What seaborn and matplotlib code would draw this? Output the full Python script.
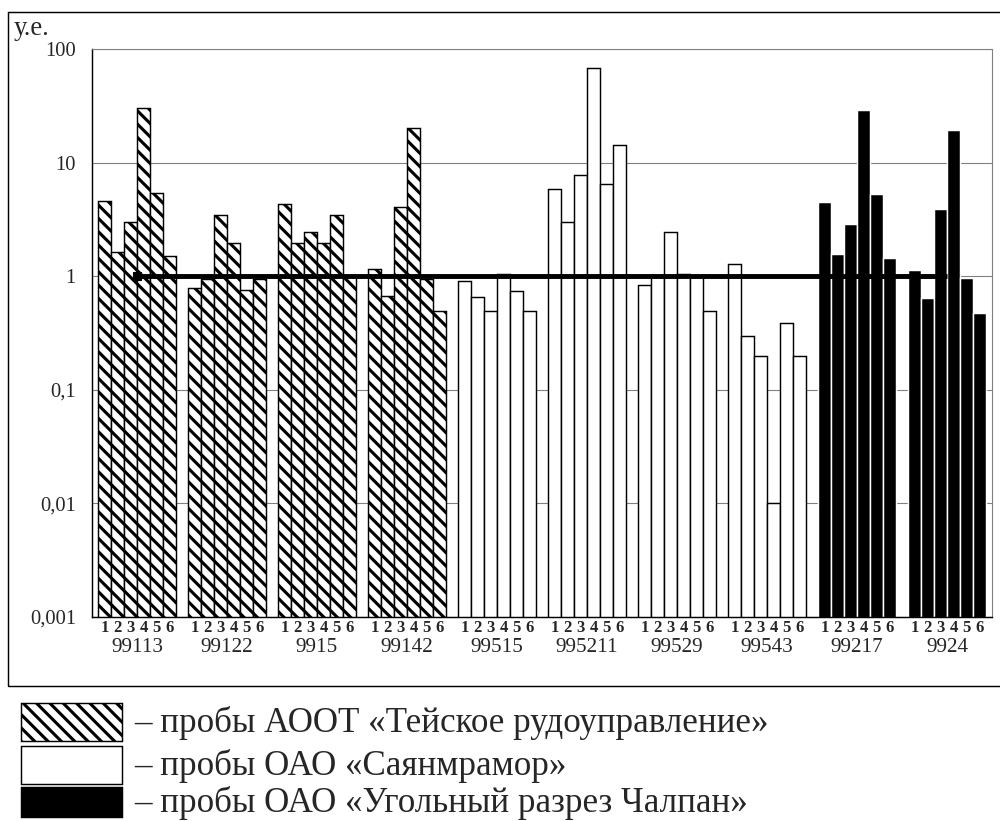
import numpy as np
import pandas as pd
import matplotlib
matplotlib.use("Agg")
import matplotlib.pyplot as plt
import matplotlib.transforms as mtrans
from matplotlib.patches import Rectangle
from matplotlib.ticker import FixedLocator, NullLocator, FixedFormatter
import seaborn as sns

# ---------------- data ----------------
groups = ["99113", "99122", "9915", "99142", "99515",
          "995211", "99529", "99543", "99217", "9924"]
group_enterprise = ["teya", "teya", "teya", "teya",
                    "sayan", "sayan", "sayan", "sayan",
                    "chalpan", "chalpan"]
samples = ["1", "2", "3", "4", "5", "6"]

v_99113 = [4.6, 1.64, 2.97, 30.3, 5.45, 1.51]
v_99122 = [0.78, 0.95, 3.44, 1.96, 0.75, 0.95]
v_9915 = [4.3, 1.95, 2.45, 1.96, 3.44, 0.98]
v_99142 = [1.16, 0.67, 4.03, 20.0, 0.95, 0.49]
v_99515 = [0.91, 0.66, 0.49, 1.04, 0.74, 0.49]
v_995211 = [5.8, 2.97, 7.85, 68.0, 6.5, 14.2]
v_99529 = [0.83, 1.0, 2.45, 1.04, 1.0, 0.49]
v_99543 = [1.29, 0.30, 0.198, 0.01, 0.39, 0.198]
v_99217 = [4.5, 1.58, 2.87, 29.3, 5.24, 1.46]
v_9924 = [1.13, 0.64, 3.89, 19.3, 0.97, 0.475]
values = [v_99113, v_99122, v_9915, v_99142, v_99515,
          v_995211, v_99529, v_99543, v_99217, v_9924]

pdk_line = [1, 1, 1, 1, 1, 1, 1, 1, 1, 1]

ytick_values = [0.001, 0.01, 0.1, 1, 10, 100]
ytick_labels = ["0,001", "0,01", "0,1", "1", "10", "100"]
y_unit = "у.е."
legend_texts = ["– пробы АООТ «Тейское рудоуправление»",
                "– пробы ОАО «Саянмрамор»",
                "– пробы ОАО «Угольный разрез Чалпан»"]

df = pd.DataFrame([
    {"group": g, "sample": s, "value": v}
    for g, vals in zip(groups, values)
    for s, v in zip(samples, vals)
])

# ---------------- style ----------------
sns.set_style("white")
plt.rcParams["font.family"] = ["Liberation Serif", "DejaVu Serif"]
HATCH_LW = 2.8
plt.rcParams["hatch.linewidth"] = HATCH_LW
plt.rcParams["hatch.color"] = "black"

W, H, DPI = 1000, 821, 80
fig = plt.figure(figsize=(W / DPI, H / DPI), dpi=DPI)
fig.patch.set_facecolor("white")

def fx(px):
    return px / W

def fy(py):
    return 1 - py / H

ax_left, ax_right, ax_top, ax_bottom = 92, 992, 49, 617
ax = fig.add_axes([fx(ax_left), fy(ax_bottom),
                   fx(ax_right - ax_left), (ax_bottom - ax_top) / H])

sns.barplot(data=df, x="group", y="value", hue="sample",
            order=groups, hue_order=samples, width=0.87, dodge=True,
            errorbar=None, legend=False, ax=ax)
ax.set_yscale("log")
ax.set_ylim(ytick_values[0], ytick_values[-1])
ax.set_xlim(-0.5, len(groups) - 0.5)

bar_style = {
    "teya": dict(facecolor="white", edgecolor="black", hatch="\\\\", lw=1.3),
    "sayan": dict(facecolor="white", edgecolor="black", hatch=None, lw=1.3),
    "chalpan": dict(facecolor="black", edgecolor="white", hatch=None, lw=1.3),
}

def style_patch(p, key):
    st = bar_style[key]
    p.set_facecolor(st["facecolor"])
    p.set_linewidth(st["lw"])
    if st["hatch"]:
        p.set_edgecolor("black")
        p.set_hatch(st["hatch"])
        if hasattr(p, "set_hatch_linewidth"):
            p.set_hatch_linewidth(HATCH_LW)
    else:
        p.set_edgecolor(st["edgecolor"])

for cont in ax.containers:
    for i, bar in enumerate(cont):
        style_patch(bar, group_enterprise[i])
        bar.set_zorder(2)

# horizontal reference line (ПДК = 1)
ax.plot(range(len(groups)), pdk_line, color="black", lw=4.4,
        marker="s", markevery=[0], markersize=8, zorder=5,
        solid_capstyle="butt")

# grid & spines
ax.set_axisbelow(True)
ax.yaxis.grid(True, color="#808080", lw=1.0)
ax.xaxis.grid(False)
for side in ["top", "right"]:
    ax.spines[side].set_color("#808080")
    ax.spines[side].set_linewidth(1.0)
for side in ["left", "bottom"]:
    ax.spines[side].set_color("black")
    ax.spines[side].set_linewidth(1.3)

# y ticks
ax.yaxis.set_major_locator(FixedLocator(ytick_values))
ax.yaxis.set_major_formatter(FixedFormatter(ytick_labels))
ax.yaxis.set_minor_locator(NullLocator())
ax.tick_params(axis="y", which="major", direction="out", length=5.5,
               width=1.2, color="black", labelsize=18.5, pad=9)
ax.set_ylabel("")
ax.set_xlabel("")

# x ticks: category boundaries (major) and bar boundaries (minor)
bounds = np.arange(len(groups) + 1) - 0.5
ax.xaxis.set_major_locator(FixedLocator(bounds))
ax.xaxis.set_major_formatter(FixedFormatter([""] * len(bounds)))
minor_pos = []
for cont in ax.containers[1:]:
    for bar in cont:
        minor_pos.append(bar.get_x())
ax.xaxis.set_minor_locator(FixedLocator(minor_pos))
ax.tick_params(axis="x", which="major", direction="inout", length=10,
               width=1.2, color="black")
ax.tick_params(axis="x", which="minor", direction="out", length=5,
               width=1.0, color="black")

# sub labels 1..6 and group labels
tr = mtrans.blended_transform_factory(ax.transData, fig.transFigure)
for h, cont in enumerate(ax.containers):
    for bar in cont:
        cx = bar.get_x() + bar.get_width() / 2
        ax.text(cx, fy(628), samples[h], transform=tr, ha="center",
                va="center", fontsize=15, fontweight="bold")
for i, g in enumerate(groups):
    ax.text(i, fy(647), g, transform=tr, ha="center", va="center",
            fontsize=19)

# unit label
fig.text(fx(14), fy(35), y_unit, fontsize=24, ha="left", va="baseline")

# outer frame
fig.patches.append(Rectangle((fx(8), fy(686)), fx(1005 - 8), (686 - 12) / H,
                             transform=fig.transFigure, fill=False,
                             ec="black", lw=1.3, zorder=10))

# legend
leg_boxes = [(21, 703, 122, 741), (21, 746, 122, 784), (21, 787, 122, 817)]
leg_styles = ["teya", "sayan", "chalpan"]
leg_text_x = [134, 134, 134]
for (x0, y0, x1, y1), key, tx, txt in zip(leg_boxes, leg_styles,
                                          leg_text_x, legend_texts):
    r = Rectangle((fx(x0), fy(y1)), fx(x1 - x0), (y1 - y0) / H,
                  transform=fig.transFigure)
    style_patch(r, key)
    r.set_edgecolor("black")
    fig.patches.append(r)
    fig.text(fx(tx), fy((y0 + y1) / 2 + 1), txt, fontsize=31.5, ha="left",
             va="center")

fig.savefig("out.png", dpi=DPI, facecolor="white")
